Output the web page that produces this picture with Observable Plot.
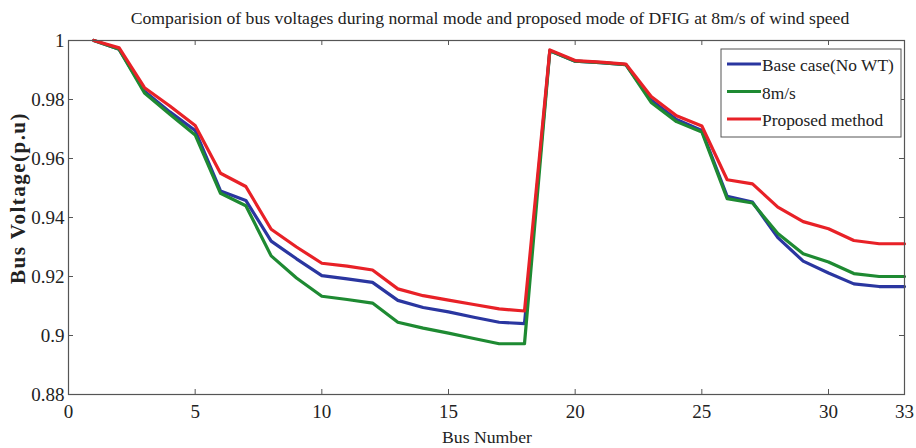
<!DOCTYPE html>
<html>
<head>
<meta charset="utf-8">
<script src="https://cdn.jsdelivr.net/npm/d3@7"></script>
<script src="https://cdn.jsdelivr.net/npm/@observablehq/plot@0.6"></script>
<style>
  html, body { margin: 0; padding: 0; background: #fff; }
  #chart { width: 916px; height: 448px; }
  #chart svg text { font-family: "Liberation Serif", serif; font-variant-numeric: normal; }
</style>
</head>
<body>
<div id="chart"></div>
<script>
const buses = d3.range(1, 34);
const baseCase = [1.0, 0.997, 0.9828, 0.9758, 0.9695, 0.9490, 0.9458, 0.9320, 0.9260, 0.9203, 0.9192, 0.9180, 0.9119, 0.9095, 0.9080, 0.9062, 0.9045, 0.9040,
  0.9965, 0.9930, 0.9925, 0.9918, 0.9798, 0.9732, 0.9695, 0.9472, 0.9452, 0.9332, 0.9252, 0.9212, 0.9175, 0.9166, 0.9166];
const wind8 = [1.0, 0.997, 0.9822, 0.9750, 0.9680, 0.9482, 0.9440, 0.9270, 0.9195, 0.9133, 0.9122, 0.9110, 0.9045, 0.9025, 0.9008, 0.8990, 0.8972, 0.8972,
  0.9965, 0.9930, 0.9925, 0.9918, 0.9790, 0.9725, 0.9690, 0.9464, 0.9449, 0.9346, 0.9277, 0.9249, 0.9210, 0.9200, 0.9200];
const proposed = [1.0, 0.9975, 0.9840, 0.9778, 0.9712, 0.9550, 0.9505, 0.9360, 0.9300, 0.9245, 0.9235, 0.9222, 0.9158, 0.9135, 0.9120, 0.9105, 0.9090, 0.9083,
  0.9968, 0.9932, 0.9927, 0.9920, 0.9810, 0.9745, 0.9710, 0.9528, 0.9514, 0.9435, 0.9386, 0.9362, 0.9322, 0.9311, 0.9311];
const seriesNames = ["Base case(No WT)", "8m/s", "Proposed method"];
const seriesColors = ["#2a36a0", "#1e8a32", "#e82127"];
const xTicks = [0, 5, 10, 15, 20, 25, 30, 33];
const yTicks = [0.88, 0.9, 0.92, 0.94, 0.96, 0.98, 1];
const titleText = "Comparision of bus voltages during normal mode and proposed mode of DFIG at 8m/s of wind speed";
const xLabel = "Bus Number";
const yLabel = "Bus Voltage(p.u)";

const seriesValues = [baseCase, wind8, proposed];
const data = [];
seriesValues.forEach((vals, si) => vals.forEach((v, i) => data.push({bus: buses[i], v, s: seriesNames[si]})));

const font = "Liberation Serif, serif";
const W = 916, H = 448;
const mL = 68, mR = 12, mT = 40, mB = 54;
const tickLenX = 5 * (33 / (W - mL - mR));
const tickLenY = 5 * (0.12 / (H - mT - mB));
const fmtY = d => String(+d.toFixed(2));

const plot = Plot.plot({
  width: W, height: H,
  marginLeft: mL, marginRight: mR, marginTop: mT, marginBottom: mB,
  style: {fontFamily: font, fontSize: "19px", background: "#fff", color: "#222"},
  x: {domain: [0, 33]},
  y: {domain: [0.88, 1]},
  color: {domain: seriesNames, range: seriesColors},
  marks: [
    Plot.axisX({ticks: xTicks, tickSize: 0, tickPadding: 10, label: null, fontSize: 19, tickFormat: d => String(d)}),
    Plot.axisY({ticks: yTicks, tickSize: 0, tickPadding: 4, label: null, fontSize: 19, tickFormat: fmtY}),
    Plot.ruleX(xTicks.filter(d => d > 0 && d < 33), {x: d => d, y1: 0.88, y2: 0.88 + tickLenY, stroke: "#555"}),
    Plot.ruleX(xTicks.filter(d => d > 0 && d < 33), {x: d => d, y1: 1, y2: 1 - tickLenY, stroke: "#555"}),
    Plot.ruleY(yTicks.filter(d => d > 0.88 && d < 1), {y: d => d, x1: 0, x2: tickLenX, stroke: "#555"}),
    Plot.ruleY(yTicks.filter(d => d > 0.88 && d < 1), {y: d => d, x1: 33, x2: 33 - tickLenX, stroke: "#555"}),
    Plot.line(data, {x: "bus", y: "v", z: "s", stroke: "s", strokeWidth: 3.2, strokeLinejoin: "round"}),
    Plot.frame({stroke: "#555", strokeWidth: 1.2})
  ]
});

const svg = d3.select(plot);
document.getElementById("chart").appendChild(plot);

// size a text so that its natural width matches the target width
function fitSize(sel, base, target) {
  sel.attr("font-size", base);
  const w = sel.node().getComputedTextLength();
  sel.attr("font-size", (base * target / w).toFixed(2));
  return sel;
}

const title = svg.append("text").attr("x", 490).attr("y", 24).attr("text-anchor", "middle")
  .attr("fill", "#222").text(titleText);
fitSize(title, 17, 719);

const xl = svg.append("text").attr("x", 487).attr("y", 443).attr("text-anchor", "middle")
  .attr("fill", "#222").text(xLabel);
fitSize(xl, 18, 90);

const yl = svg.append("text").attr("transform", "translate(25,198) rotate(-90)").attr("text-anchor", "middle")
  .attr("font-size", 21).attr("font-weight", "bold").attr("fill", "#222").text(yLabel);
{
  const w = yl.node().getComputedTextLength();
  const n = yLabel.length;
  yl.attr("letter-spacing", Math.max(0, (172 - w) / n).toFixed(2));
}

// legend
const legendWidths = [132, 33, 121];
const lg = svg.append("g").attr("transform", "translate(721,49)");
lg.append("rect").attr("width", 180).attr("height", 88).attr("fill", "#fff").attr("stroke", "#555").attr("stroke-width", 1);
const legendSize = (() => {
  const t = lg.append("text").attr("font-size", 20).text(seriesNames[0]);
  const s = 20 * legendWidths[0] / t.node().getComputedTextLength();
  t.remove();
  return s;
})();
seriesNames.forEach((n, i) => {
  const y = 15 + i * 27.5;
  lg.append("line").attr("x1", 6).attr("x2", 40).attr("y1", y).attr("y2", y)
    .attr("stroke", seriesColors[i]).attr("stroke-width", 3.2);
  lg.append("text").attr("x", 41).attr("y", y + 7).attr("text-anchor", "start").attr("font-size", legendSize.toFixed(2))
    .attr("fill", "#222").text(n);
});
</script>
</body>
</html>
